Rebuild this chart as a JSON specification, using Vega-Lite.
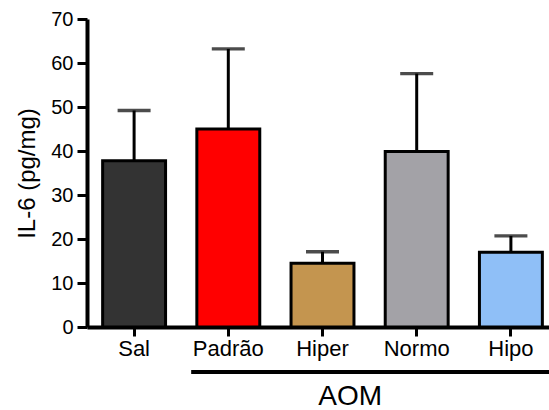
{
  "$schema": "https://vega.github.io/schema/vega-lite/v6.json",
  "width": 462,
  "height": 308,
  "autosize": {"type": "none"},
  "padding": {"left": 87, "top": 19, "right": 0, "bottom": 83},
  "config": {
    "view": {"stroke": null},
    "font": "Liberation Sans"
  },
  "datasets": {
    "groups": [
      {"group": "Sal", "mean": 37.8, "upper": 49.2},
      {"group": "Padrão", "mean": 45.0, "upper": 63.2},
      {"group": "Hiper", "mean": 14.5, "upper": 17.1},
      {"group": "Normo", "mean": 39.9, "upper": 57.6},
      {"group": "Hipo", "mean": 17.0, "upper": 20.7}
    ],
    "bracket": [
      {"from": "Padrão", "to": "Hipo", "mid": "Hiper", "label": "AOM"}
    ]
  },
  "layer": [
    {
      "data": {"name": "groups"},
      "mark": {"type": "rule", "color": "black", "strokeWidth": 3},
      "encoding": {
        "x": {
          "field": "group",
          "type": "nominal",
          "scale": {
            "domain": ["Sal", "Padrão", "Hiper", "Normo", "Hipo"],
            "range": [0, 471],
            "paddingInner": 0.332,
            "paddingOuter": 0.166
          },
          "axis": {
            "title": null,
            "labelAngle": 0,
            "labelFontSize": 22,
            "labelColor": "black",
            "labelPadding": 2,
            "domainColor": "black",
            "domainWidth": 4,
            "tickColor": "black",
            "tickWidth": 3,
            "tickSize": 9
          }
        },
        "y": {
          "field": "mean",
          "type": "quantitative",
          "scale": {"domain": [0, 70], "nice": false},
          "axis": {
            "title": "IL-6 (pg/mg)",
            "titleFontSize": 24,
            "titleFontWeight": "normal",
            "titleColor": "black",
            "titlePadding": 11,
            "values": [0, 10, 20, 30, 40, 50, 60, 70],
            "grid": false,
            "labelFontSize": 20,
            "labelColor": "black",
            "labelPadding": 4,
            "domainColor": "black",
            "domainWidth": 4,
            "tickColor": "black",
            "tickWidth": 3,
            "tickSize": 10
          }
        },
        "y2": {"field": "upper"}
      }
    },
    {
      "data": {"name": "groups"},
      "mark": {"type": "tick", "color": "black", "size": 33, "thickness": 3.3, "orient": "horizontal"},
      "encoding": {
        "x": {"field": "group", "type": "nominal"},
        "y": {"field": "upper", "type": "quantitative"}
      }
    },
    {
      "data": {"name": "groups"},
      "mark": {"type": "bar", "stroke": "black", "strokeWidth": 3},
      "encoding": {
        "x": {"field": "group", "type": "nominal"},
        "y": {"field": "mean", "type": "quantitative"},
        "fill": {
          "field": "group",
          "type": "nominal",
          "scale": {
            "domain": ["Sal", "Padrão", "Hiper", "Normo", "Hipo"],
            "range": ["#333333", "#ff0000", "#c4954f", "#a3a2a7", "#8fbff7"]
          },
          "legend": null
        }
      }
    },
    {
      "data": {"name": "bracket"},
      "mark": {"type": "rule", "color": "black", "strokeWidth": 4, "clip": false},
      "encoding": {
        "x": {"field": "from", "type": "nominal", "bandPosition": -0.09},
        "x2": {"field": "to", "bandPosition": 1.2},
        "y": {"datum": -10.2}
      }
    },
    {
      "data": {"name": "bracket"},
      "mark": {"type": "text", "fontSize": 28, "color": "black", "align": "center", "baseline": "alphabetic", "clip": false},
      "encoding": {
        "x": {"field": "mid", "type": "nominal", "bandPosition": 0.94},
        "y": {"datum": -17.7},
        "text": {"field": "label"}
      }
    }
  ]
}
